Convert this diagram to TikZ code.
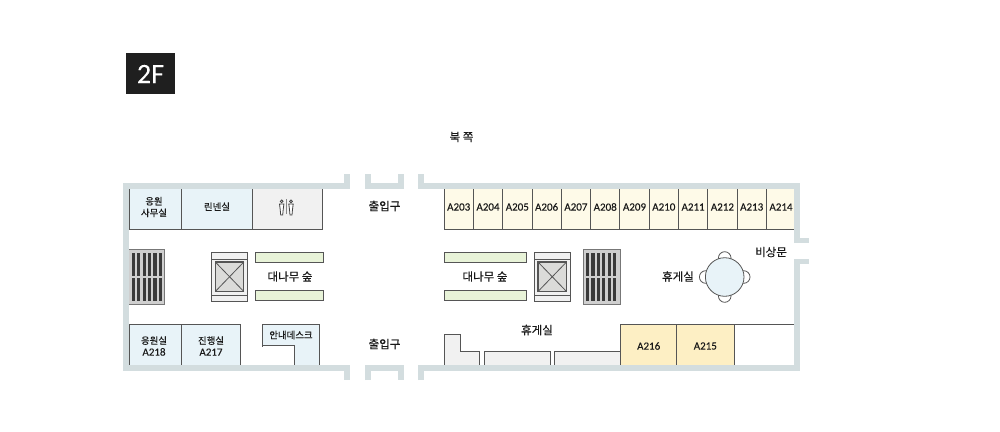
\documentclass[tikz,border=0pt]{standalone}
\usepackage{fontspec}
\setmainfont[FakeBold=0.35]{Noto Sans CJK KR}
\newfontfamily\latinfont[FakeBold=0.15]{Carlito}
\definecolor{wallc}{HTML}{D3DDDF}
\definecolor{linec}{HTML}{555555}
\definecolor{bluec}{HTML}{E8F3F8}
\definecolor{creamc}{HTML}{FEFAE8}
\definecolor{yellowc}{HTML}{FDEFC4}
\definecolor{greenc}{HTML}{E8F3D8}
\definecolor{grayc}{HTML}{F1F1F1}
\definecolor{stairc}{HTML}{CFCFCF}
\definecolor{liftc}{HTML}{DBDBD9}
\definecolor{barc}{HTML}{3A3A3A}
\tikzset{
    wall/.style = {draw=wallc, line width=5.5pt, line cap=butt, line join=miter},
    room/.style = {draw=linec, line width=0.8pt},
    label/.style = {font=\fontsize{11.5}{13}\selectfont, align=center, text=black!90, inner sep=0pt},
    smalllabel/.style = {font=\fontsize{9.4}{11.6}\selectfont, align=center, text=black!90, inner sep=0pt},
    roomno/.style = {font=\latinfont\fontsize{11}{12}\selectfont, align=center, text=black!90, inner sep=0pt},
}
\newcommand{\liftbox}[1]{
    \draw[room, fill=grayc] (#1,252.5) rectangle ++(36.5,48.5);
    \draw[room, line width=1.2pt, fill=liftc] (#1+4,262) rectangle ++(28.5,29.5);
    \draw[room] (#1+4,262) -- ++(28.5,29.5);
    \draw[room] (#1+32.5,262) -- ++(-28.5,29.5);
    \draw[room, draw=linec] (#1,259) -- ++(36.5,0);
    \draw[room, draw=linec] (#1,295) -- ++(36.5,0);
}
\newcommand{\stairbars}[1]{
    \foreach \n in {0,...,5} {
        \fill[barc] (#1+\n*5.4,253) rectangle ++(3.2,23);
        \fill[barc] (#1+\n*5.4,278) rectangle ++(3.2,23);
    }
}
\newcommand{\person}[1]{
    \draw[black!75, line width=0.8pt] (#1,201.3) circle (1.4pt);
    \draw[black!75, line width=0.8pt, fill=white] (#1-2.2,204) -- (#1+2.2,204) -- (#1+1.5,209.5) -- (#1+1,215) -- (#1-1,215) -- (#1-1.5,209.5) -- cycle;
}
\begin{document}
\begin{tikzpicture}[x=1pt, y=-1pt]
    \useasboundingbox (0,0) rectangle (1000,431);
    \fill[white] (0,0) rectangle (1000,431);

    \fill[black!88] (126,53) rectangle (175,94);
    \node[text=white, inner sep=0pt, font=\latinfont\fontsize{28}{30}\selectfont] (floor) at (150.5,74) {2F};
    \node[label] (north) at (461.5,137) {북 쪽};

    % top row
    \draw[room, fill=bluec] (129,188) rectangle (181,229);
    \draw[room, fill=bluec] (181,188) rectangle (252,229);
    \draw[room, fill=grayc] (252,188) rectangle (322,229);
    \foreach \n [count=\i from 0] in {203,...,214} {
        \draw[room, fill=creamc] (444+\i*29.3,188) rectangle ++(29.3,41);
        \node[roomno] (r\n) at (458.7+\i*29.3,207) {A\n};
    }
    \fill[creamc] (794,189) rectangle (797,228.5);
    \person{281.7}
    \person{291}
    \draw[linec!70, line width=0.8pt] (286.3,199) -- (286.3,214);

    % bottom row
    \draw[room, fill=bluec] (129,324.7) rectangle (181,365);
    \draw[room, fill=bluec] (181,324.7) rectangle (240.7,365);
    \draw[room, fill=bluec] (262.7,365) -- (262.7,324.7) -- (319,324.7) -- (319,365) -- (294.7,365) -- (294.7,345.7) -- (262.7,345.7) -- cycle;
    \fill[white] (261,346.5) rectangle (294,366);
    \draw[room, fill=grayc] (444,365) -- (444,334.3) -- (460.7,334.3) -- (460.7,351.3) -- (479.7,351.3) -- (479.7,365);
    \draw[room, fill=grayc] (484.3,365) -- (484.3,351.3) -- (550.3,351.3) -- (550.3,365);
    \draw[room, fill=grayc] (554.7,365) -- (554.7,351.3) -- (620,351.3) -- (620,365);
    \draw[room, fill=yellowc] (620,324.7) rectangle (676.7,365);
    \draw[room, fill=yellowc] (676.7,324.7) rectangle (734,365);
    \draw[room] (734,324.7) -- (794,324.7);

    % stairs
    \draw[room, draw=linec!80, fill=stairc] (129,249.5) -- (164,249.5) -- (164,304) -- (129,304);
    \stairbars{131.7}
    \draw[room, draw=linec!80, fill=stairc] (583.5,249.5) rectangle (620.3,304);
    \stairbars{586}

    % lifts and bamboo
    \liftbox{211.3}
    \liftbox{534}
    \draw[room, fill=greenc] (255.7,252.7) rectangle (323.7,262.5);
    \draw[room, fill=greenc] (255.7,290.7) rectangle (323.7,300.8);
    \draw[room, fill=greenc] (444,252.7) rectangle (526.7,262.5);
    \draw[room, fill=greenc] (444,290.7) rectangle (526.7,300.8);

    % table
    \foreach \a in {0,90,180,270}
        \draw[room, fill=white] (724.7,277) ++(\a:19pt) circle (6.3pt);
    \draw[room, fill=bluec] (724.7,277) circle (19.3pt);

    % walls
    \draw[wall] (347,174) -- (347,185.8) -- (126,185.8) -- (126,368.2) -- (347,368.2) -- (347,380);
    \draw[wall] (368,174) -- (368,185.8) -- (401,185.8) -- (401,174);
    \draw[wall] (368,380) -- (368,368.2) -- (401,368.2) -- (401,380);
    \draw[wall] (421,174) -- (421,185.8) -- (797,185.8) -- (797,240.7) -- (809,240.7);
    \draw[wall] (421,380) -- (421,368.2) -- (797,368.2) -- (797,261.5) -- (809,261.5);

    % labels
    \node[smalllabel] (cheeroffice) at (154,207) {응원\\사무실};
    \node[smalllabel] (linen) at (217,206.7) {린넨실};
    \node[label] (doorn) at (384.5,206) {출입구};
    \node[label] (doors) at (384.5,344) {출입구};
    \node[label] (bamboow) at (290,276.5) {대나무 숲};
    \node[label] (bambooe) at (485,276.5) {대나무 숲};
    \node[label] (loungea) at (537,330) {휴게실};
    \node[label] (loungeb) at (678,276.5) {휴게실};
    \node[label] (exit) at (771,252) {비상문};
    \node[smalllabel] (cheerroom) at (154,346) {응원실\\{\latinfont\fontsize{11}{11.6}\selectfont A218}};
    \node[smalllabel] (staffroom) at (211,346) {진행실\\{\latinfont\fontsize{11}{11.6}\selectfont A217}};
    \node[smalllabel] (desk) at (291,335) {안내데스크};
    \node[roomno] (r216) at (648.7,346) {A216};
    \node[roomno] (r215) at (705.3,346) {A215};
\end{tikzpicture}
\end{document}
